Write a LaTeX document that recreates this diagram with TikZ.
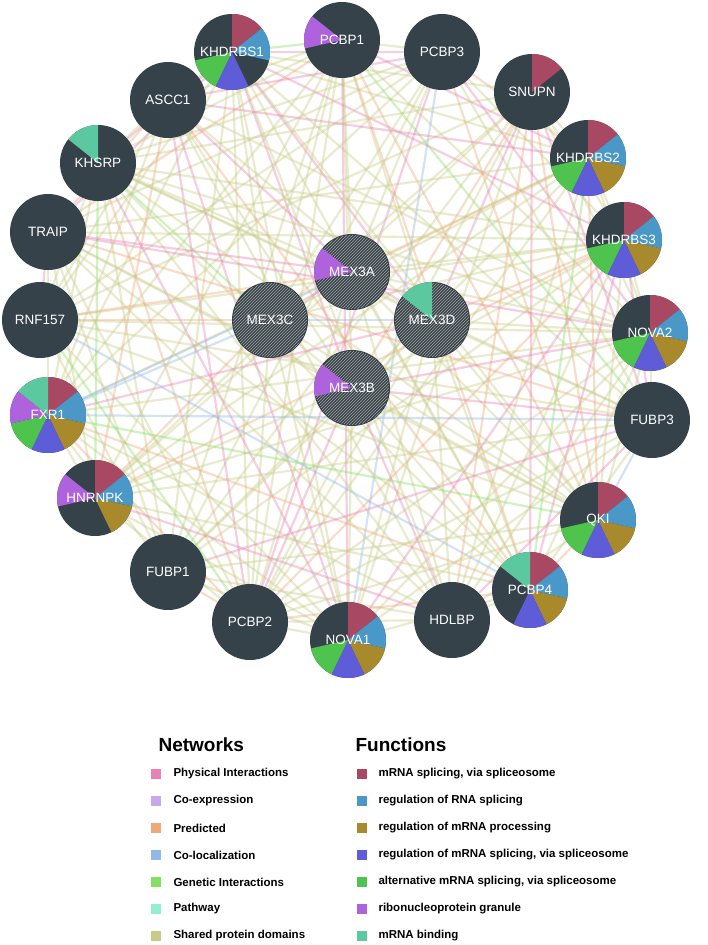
\documentclass[tikz,border=0pt]{standalone}
\usepackage{fontspec}
\setmainfont{Liberation Sans}
\usetikzlibrary{backgrounds,patterns}

\definecolor{nodegray}{HTML}{36424A}
\definecolor{fa}{HTML}{A84862}
\definecolor{fb}{HTML}{4A98C8}
\definecolor{fc}{HTML}{A88A2C}
\definecolor{fd}{HTML}{5E5CD6}
\definecolor{fe}{HTML}{4EC44E}
\definecolor{ff}{HTML}{AE62DC}
\definecolor{fg}{HTML}{5CC8A0}
\definecolor{nphys}{HTML}{E882B4}
\definecolor{ncoex}{HTML}{C8A8E8}
\definecolor{npred}{HTML}{F0A878}
\definecolor{ncoloc}{HTML}{92B8E8}
\definecolor{ngen}{HTML}{84E064}
\definecolor{npath}{HTML}{92F0D2}
\definecolor{nshared}{HTML}{C8CC88}

\tikzset{
  gene/.style={circle, fill=nodegray, minimum size=76pt, inner sep=0pt},
  lbl/.style={text=white, font=\fontsize{13.5}{14}\selectfont},
  edge/.style={line width=2.2pt, opacity=0.4},
  leg/.style={anchor=west, font=\bfseries\fontsize{11.5}{12}\selectfont},
  legtitle/.style={anchor=west, font=\bfseries\fontsize{19}{20}\selectfont}
}

\begin{document}
\begin{tikzpicture}[x=1pt, y=1pt]
\useasboundingbox (0,0) rectangle (708,-945);

% genes
\foreach \n/\x/\y in {KHDRBS1/232/52, PCBP1/342/40, PCBP3/442/52, SNUPN/532/92,
    ASCC1/168/100, KHSRP/98/163, KHDRBS2/588/158, TRAIP/48/232, KHDRBS3/624/240,
    MEX3A/352/272, MEX3C/270/320, MEX3D/432/320, MEX3B/352/388, RNF157/40/320,
    NOVA2/650/333, FXR1/48/415, FUBP3/652/420, HNRNPK/95/498, QKI/598/520,
    FUBP1/168/572, PCBP4/530/590, PCBP2/250/622, NOVA1/348/640, HDLBP/452/620}
  \node[gene] (\n) at (\x,-\y) {};

% interactions
\begin{scope}[on background layer]
\pgfmathsetseed{11}
\foreach \a [count=\i] in {KHDRBS1,PCBP1,PCBP3,SNUPN,ASCC1,KHSRP,KHDRBS2,TRAIP,
    KHDRBS3,MEX3A,MEX3C,MEX3D,MEX3B,RNF157,NOVA2,FXR1,FUBP3,HNRNPK,QKI,FUBP1,
    PCBP4,PCBP2,NOVA1,HDLBP}
  \foreach \b [count=\j] in {KHDRBS1,PCBP1,PCBP3,SNUPN,ASCC1,KHSRP,KHDRBS2,TRAIP,
      KHDRBS3,MEX3A,MEX3C,MEX3D,MEX3B,RNF157,NOVA2,FXR1,FUBP3,HNRNPK,QKI,FUBP1,
      PCBP4,PCBP2,NOVA1,HDLBP}{
    \ifnum\j>\i
      \pgfmathsetmacro{\r}{rnd}
      \pgfmathsetmacro{\s}{rnd}
      \pgfmathtruncatemacro{\t}{\s<0.6 ? 0 : (\s<0.75 ? 1 : (\s<0.88 ? 2 : (\s<0.95 ? 3 : 4)))}
      \ifdim\r pt<0.75pt
        \ifcase\t
          \draw[edge, nshared] (\a) -- (\b);
        \or \draw[edge, nphys] (\a) -- (\b);
        \or \draw[edge, npred] (\a) -- (\b);
        \or \draw[edge, ngen] (\a) -- (\b);
        \or \draw[edge, ncoloc] (\a) -- (\b);
        \fi
      \fi
    \fi}
\end{scope}

% query genes
\foreach \n in {MEX3A,MEX3C,MEX3D,MEX3B}
  \fill[pattern=north east lines, pattern color=gray!70] (\n.center) circle (37pt);

% function wedges
\foreach \n/\w in {KHDRBS1/{1/fa,2/fb,4/fd,5/fe}, PCBP1/{6/ff}, SNUPN/{1/fa},
    KHSRP/{7/fg}, KHDRBS2/{1/fa,2/fb,3/fc,4/fd,5/fe}, KHDRBS3/{1/fa,2/fb,3/fc,4/fd,5/fe},
    NOVA2/{1/fa,2/fb,3/fc,4/fd,5/fe}, MEX3A/{6/ff}, MEX3B/{6/ff}, MEX3D/{7/fg},
    FXR1/{1/fa,2/fb,3/fc,4/fd,5/fe,6/ff,7/fg}, HNRNPK/{1/fa,2/fb,3/fc,6/ff},
    QKI/{1/fa,2/fb,3/fc,4/fd,5/fe}, PCBP4/{1/fa,2/fb,3/fc,4/fd,7/fg},
    NOVA1/{1/fa,2/fb,3/fc,4/fd,5/fe}}
  \foreach \k/\c in \w
    \fill[\c] (\n.center) -- ++({90-(\k-1)*360/7}:38pt)
      arc[start angle={90-(\k-1)*360/7}, end angle={90-\k*360/7}, radius=38pt] -- cycle;

\foreach \n in {KHDRBS1,PCBP1,PCBP3,SNUPN,ASCC1,KHSRP,KHDRBS2,TRAIP,KHDRBS3,MEX3A,
    MEX3C,MEX3D,MEX3B,RNF157,NOVA2,FXR1,FUBP3,HNRNPK,QKI,FUBP1,PCBP4,PCBP2,NOVA1,HDLBP}
  \node[lbl] (\n-lbl) at (\n.center) {\n};

% legend
\node[legtitle] (nettitle) at (155,-745) {Networks};
\node[legtitle] (funtitle) at (352,-745) {Functions};
\foreach \t/\c [count=\i] in {Physical Interactions/nphys, Co-expression/ncoex,
    Predicted/npred, Co-localization/ncoloc, Genetic Interactions/ngen,
    Pathway/npath, Shared protein domains/nshared}{
  \fill[\c] (151,{-774-(\i-1)*27-5}) rectangle ++(10,10);
  \node[leg] (net\i) at (170,{-774-(\i-1)*27}) {\t};}
\foreach \t/\c [count=\i] in {{mRNA splicing, via spliceosome}/fa,
    regulation of RNA splicing/fb, regulation of mRNA processing/fc,
    {regulation of mRNA splicing, via spliceosome}/fd,
    {alternative mRNA splicing, via spliceosome}/fe,
    ribonucleoprotein granule/ff, mRNA binding/fg}{
  \fill[\c] (357,{-774-(\i-1)*27-5}) rectangle ++(10,10);
  \node[leg] (fun\i) at (375,{-774-(\i-1)*27}) {\t};}
\end{tikzpicture}
\end{document}
